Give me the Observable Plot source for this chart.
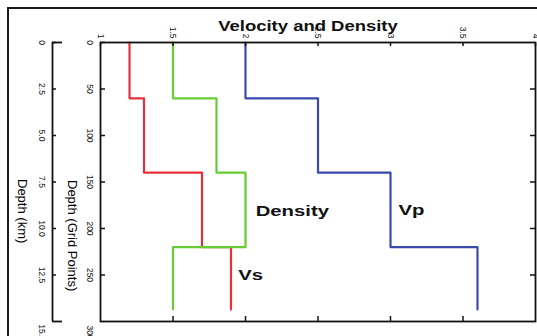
<!DOCTYPE html>
<html><head><meta charset="utf-8">
<script src="https://cdn.jsdelivr.net/npm/d3@7"></script>
<script src="https://cdn.jsdelivr.net/npm/@observablehq/plot@0.6"></script>
<style>
html,body{margin:0;padding:0;background:#fff;overflow:hidden;}
#wrap{position:relative;width:537px;height:336px;overflow:hidden;background:#fff;}
#border{position:absolute;left:7px;top:7px;width:700px;height:500px;border:2px solid #1a1a1a;}
#chart{position:absolute;left:0;top:0;}
</style></head><body>
<div id="wrap"><div id="border"></div><div id="chart"></div></div>
<script>
// ---- data ----
const layerTops = [0, 60, 140, 220];
const profileBottom = 287;
const vsValues = [1.2, 1.3, 1.7, 1.9];
const densityValues = [1.5, 1.8, 2.0, 1.5];
const vpValues = [2.0, 2.5, 3.0, 3.6];
const seriesNames = ["Vs", "Density", "Vp"];
const seriesColors = ["#e8303a", "#66cc33", "#3a4aae"];
const xTicks = [1, 1.5, 2, 2.5, 3, 3.5, 4];
const xTickLabels = ["1", "1.5", "2", "2.5", "3", "3.5", "4"];
const gridTicks = [0, 50, 100, 150, 200, 250, 300];
const kmTickLabels = ["0", "2.5", "5.0", "7.5", "10.0", "12.5", "15.0"];
const labelNames = ["Density", "Vp", "Vs"];
const labelX = [2.07, 3.055, 1.95];
const labelY = [182, 181, 251];
const titleText = "Velocity and Density";
const yTitleGrid = "Depth (Grid Points)";
const yTitleKm = "Depth (km)";

// ---- build tables ----
function profile(name, values) {
  const pts = values.map((v, i) => ({series: name, v, d: layerTops[i]}));
  pts.push({series: name, v: values[values.length - 1], d: profileBottom});
  return pts;
}
const rows = [
  ...profile("Vs", vsValues),
  ...profile("Density", densityValues),
  ...profile("Vp", vpValues)
];
const annots = labelNames.map((name, i) => ({name, x: labelX[i], y: labelY[i]}));
const xFmt = d => xTickLabels[xTicks.indexOf(d)];
const kmFmt = d => kmTickLabels[gridTicks.indexOf(d)];
const blank = () => "";
const ink = "#111";
const tickFont = 8.5;
const KM_OFFSET = -48;

const chart = Plot.plot({
  width: 537, height: 336,
  marginTop: 42, marginBottom: 15, marginLeft: 100, marginRight: 2,
  x: {domain: [1, 4], label: null},
  y: {domain: [0, 300], reverse: true, label: null},
  color: {domain: seriesNames, range: seriesColors},
  style: {fontFamily: "'Liberation Sans', Arial, sans-serif", background: "transparent", color: ink},
  marks: [
    Plot.line(rows, {x: "v", y: "d", z: "series", stroke: "series", strokeWidth: 2.2, curve: "step-before"}),
    Plot.frame({stroke: ink, strokeWidth: 1.8}),
    // top axis
    Plot.axisX({anchor: "top", ticks: xTicks, tickFormat: xFmt, tickSize: -3, tickRotate: 90,
      textAnchor: "end", lineAnchor: "middle", tickPadding: 7, fontSize: tickFont, label: null, strokeWidth: 1.5}),
    // bottom ticks
    Plot.axisX({anchor: "bottom", ticks: xTicks.slice(1, -1), tickFormat: blank, tickSize: -5, label: null, strokeWidth: 1.5}),
    // right ticks
    Plot.axisY({anchor: "right", ticks: gridTicks.slice(1, -1), tickFormat: blank, tickSize: -6, label: null, strokeWidth: 1.5}),
    // grid-point axis
    Plot.axisY({anchor: "left", ticks: gridTicks.slice(0, -1), tickSize: -5, tickRotate: 90,
      textAnchor: "middle", lineAnchor: "top", tickPadding: 12, fontSize: tickFont, label: null, strokeWidth: 1.5}),
    Plot.axisY({anchor: "left", ticks: gridTicks.slice(-1), tickSize: 0, tickRotate: 90, dy: 11,
      textAnchor: "middle", lineAnchor: "top", tickPadding: 7, fontSize: tickFont, label: null}),
    // km axis
    Plot.ruleX([1], {dx: KM_OFFSET, stroke: ink, strokeWidth: 1.8}),
    Plot.axisY({anchor: "left", ticks: gridTicks.slice(0, -1), dx: KM_OFFSET, tickSize: -4, tickFormat: kmFmt, tickRotate: 90,
      textAnchor: "middle", lineAnchor: "top", tickPadding: 11, fontSize: tickFont, label: null, strokeWidth: 1.5}),
    Plot.axisY({anchor: "left", ticks: [gridTicks[0], gridTicks[gridTicks.length - 1]], dx: KM_OFFSET, tickSize: -10,
      tickFormat: blank, label: null, strokeWidth: 1.8}),
    Plot.axisY({anchor: "left", ticks: gridTicks.slice(-1), dx: KM_OFFSET, dy: 11, tickSize: 0, tickFormat: kmFmt, tickRotate: 90,
      textAnchor: "middle", lineAnchor: "top", tickPadding: 7, fontSize: tickFont, label: null}),
    // axis titles
    Plot.text([yTitleGrid], {text: d => d, frameAnchor: "left", dx: -28, dy: -2, rotate: 90, fontSize: 13, fill: "#000"}),
    Plot.text([yTitleKm], {text: d => d, frameAnchor: "left", dx: -78, dy: -3, rotate: 90, fontSize: 13, fill: "#000"}),
    // title
    Plot.text([titleText], {text: d => d, frameAnchor: "top", dx: -10, dy: -21, fontSize: 14, fontWeight: "bold"}),
    // series labels
    Plot.text(annots, {x: "x", y: "y", text: "name", textAnchor: "start", fontSize: 14, fontWeight: "bold"})
  ]
});
document.getElementById("chart").append(chart);

// widen the bold title and series labels, as in the reference
function widen(content, factor) {
  chart.querySelectorAll("text").forEach(t => {
    if (t.textContent !== content) return;
    let tr = t.getAttribute("transform");
    if (!tr) {
      const x = t.getAttribute("x") || 0, y = t.getAttribute("y") || 0;
      t.removeAttribute("x"); t.removeAttribute("y");
      tr = `translate(${x},${y})`;
    }
    t.setAttribute("transform", `${tr} scale(${factor},1)`);
  });
}
widen(titleText, 1.32);
labelNames.forEach(n => widen(n, 1.45));
</script>
</body></html>
